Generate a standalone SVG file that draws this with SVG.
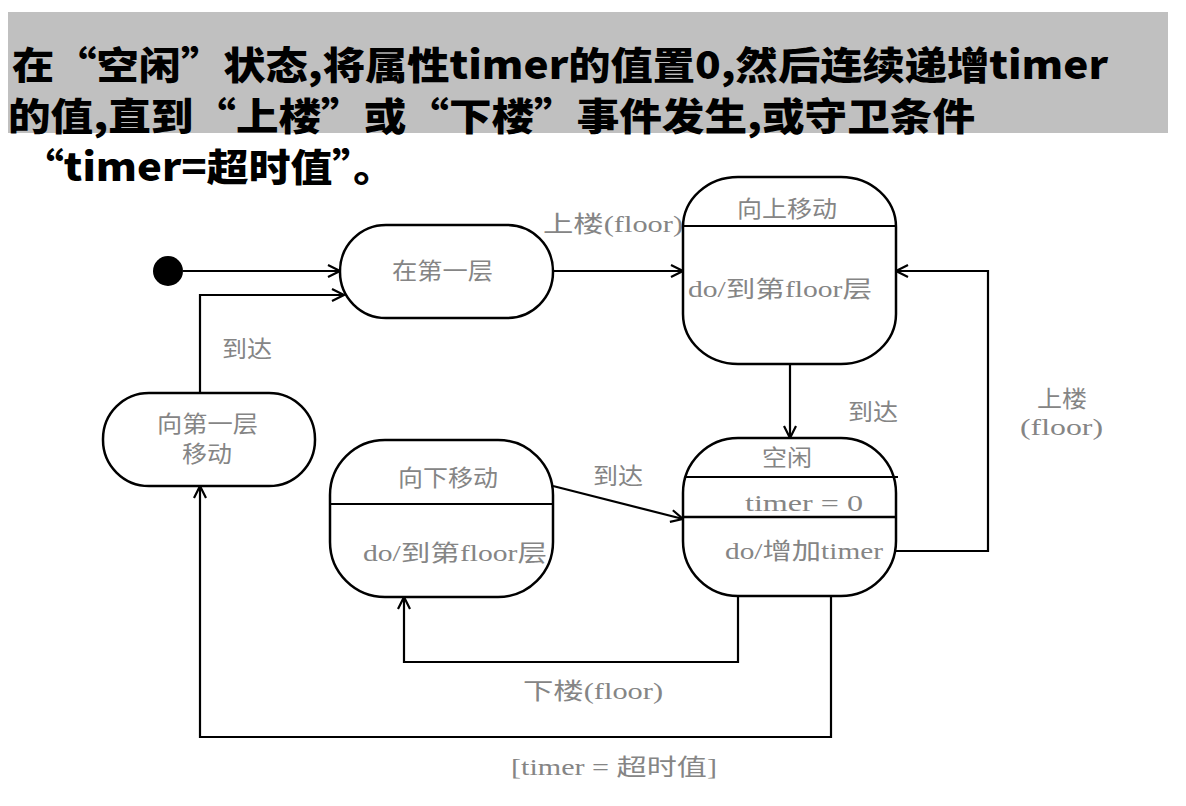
<svg xmlns="http://www.w3.org/2000/svg" width="1186" height="806" viewBox="0 0 1186 806">
<style>
.title{font-family:"Noto Sans CJK SC","Noto Sans",sans-serif;font-weight:900;font-size:38px;fill:#000}
.st{fill:#fff;stroke:#000;stroke-width:2.5}
.div{stroke:#000;stroke-width:2;fill:none}
.lbl{font-family:"Liberation Serif","Noto Sans CJK SC",serif;font-size:23px;fill:#858585}
.c{fill:none;stroke:#000;stroke-width:2.2}
</style>
<defs>
<marker id="arr" markerUnits="userSpaceOnUse" markerWidth="16" markerHeight="16" viewBox="0 0 16 16" refX="14" refY="8" orient="auto">
<path d="M2,2 L14,8 L2,14" fill="none" stroke="#000" stroke-width="2.2"/>
</marker>
</defs>
<rect x="0" y="0" width="1186" height="806" fill="#fff"/>
<g id="title">
<rect x="8" y="12" width="1160" height="121" fill="#c0c0c0"/>
<text class="title" x="12" y="79" textLength="1096" lengthAdjust="spacingAndGlyphs">在“空闲”状态,将属性timer的值置0,然后连续递增timer</text>
<text class="title" x="8" y="130" textLength="967" lengthAdjust="spacingAndGlyphs">的值,直到“上楼”或“下楼”事件发生,或守卫条件</text>
<text class="title" x="22" y="181" textLength="373" lengthAdjust="spacingAndGlyphs">“timer=超时值”。</text>
</g>
<g id="connectors">
<path class="c" d="M183,271 H340" marker-end="url(#arr)"/>
<path class="c" d="M200,393 V295 H344" marker-end="url(#arr)"/>
<path class="c" d="M553,271 H683" marker-end="url(#arr)"/>
<path class="c" d="M790,364 V438" marker-end="url(#arr)"/>
<path class="c" d="M896,551 H988 V271 H896" marker-end="url(#arr)"/>
<path class="c" d="M553,486 L683,519" marker-end="url(#arr)"/>
<path class="c" d="M738,596 V662 H404 V597" marker-end="url(#arr)"/>
<path class="c" d="M831,596 V737 H200 V486" marker-end="url(#arr)"/>
<text class="lbl" x="543" y="232" textLength="140" lengthAdjust="spacingAndGlyphs">上楼(floor)</text>
<text class="lbl" x="222" y="357" textLength="50" lengthAdjust="spacingAndGlyphs">到达</text>
<text class="lbl" x="848" y="420" textLength="50" lengthAdjust="spacingAndGlyphs">到达</text>
<text class="lbl" x="593" y="484" textLength="50" lengthAdjust="spacingAndGlyphs">到达</text>
<text class="lbl" x="1037" y="407" textLength="50" lengthAdjust="spacingAndGlyphs">上楼</text>
<text class="lbl" x="1020" y="435" textLength="83" lengthAdjust="spacingAndGlyphs">(floor)</text>
<text class="lbl" x="523" y="699" textLength="140" lengthAdjust="spacingAndGlyphs">下楼(floor)</text>
<text class="lbl" x="511" y="775" textLength="206" lengthAdjust="spacingAndGlyphs">[timer = 超时值]</text>
</g>
<g id="initial">
<circle cx="168" cy="271" r="15" fill="#000"/>
</g>
<g id="floor1">
<rect class="st" x="340" y="225" width="213" height="93" rx="46" ry="46"/>
<text class="lbl" x="392" y="279" textLength="101" lengthAdjust="spacingAndGlyphs">在第一层</text>
</g>
<g id="movingUp">
<rect class="st" x="683" y="177" width="213" height="187" rx="55" ry="50"/>
<line class="div" x1="683" y1="226" x2="896" y2="226"/>
<text class="lbl" x="737" y="217" textLength="100" lengthAdjust="spacingAndGlyphs">向上移动</text>
<text class="lbl" x="688" y="297" textLength="184" lengthAdjust="spacingAndGlyphs">do/到第floor层</text>
</g>
<g id="idle">
<rect class="st" x="683" y="438" width="213" height="158" rx="55" ry="55"/>
<line class="div" x1="686" y1="477" x2="898" y2="477"/>
<line class="div" x1="683" y1="517" x2="896" y2="517" style="stroke-width:2.5"/>
<text class="lbl" x="762" y="466" textLength="50" lengthAdjust="spacingAndGlyphs">空闲</text>
<text class="lbl" x="745" y="511" textLength="118" lengthAdjust="spacingAndGlyphs">timer = 0</text>
<text class="lbl" x="725" y="559" textLength="158" lengthAdjust="spacingAndGlyphs">do/增加timer</text>
</g>
<g id="movingDown">
<rect class="st" x="330" y="440" width="223" height="157" rx="55" ry="55"/>
<line class="div" x1="330" y1="504" x2="553" y2="504"/>
<text class="lbl" x="398" y="486" textLength="100" lengthAdjust="spacingAndGlyphs">向下移动</text>
<text class="lbl" x="363" y="561" textLength="184" lengthAdjust="spacingAndGlyphs">do/到第floor层</text>
</g>
<g id="toFloor1">
<rect class="st" x="103" y="393" width="212" height="93" rx="46" ry="46"/>
<text class="lbl" x="157" y="432" textLength="101" lengthAdjust="spacingAndGlyphs">向第一层</text>
<text class="lbl" x="182" y="462" textLength="50" lengthAdjust="spacingAndGlyphs">移动</text>
</g>
</svg>
